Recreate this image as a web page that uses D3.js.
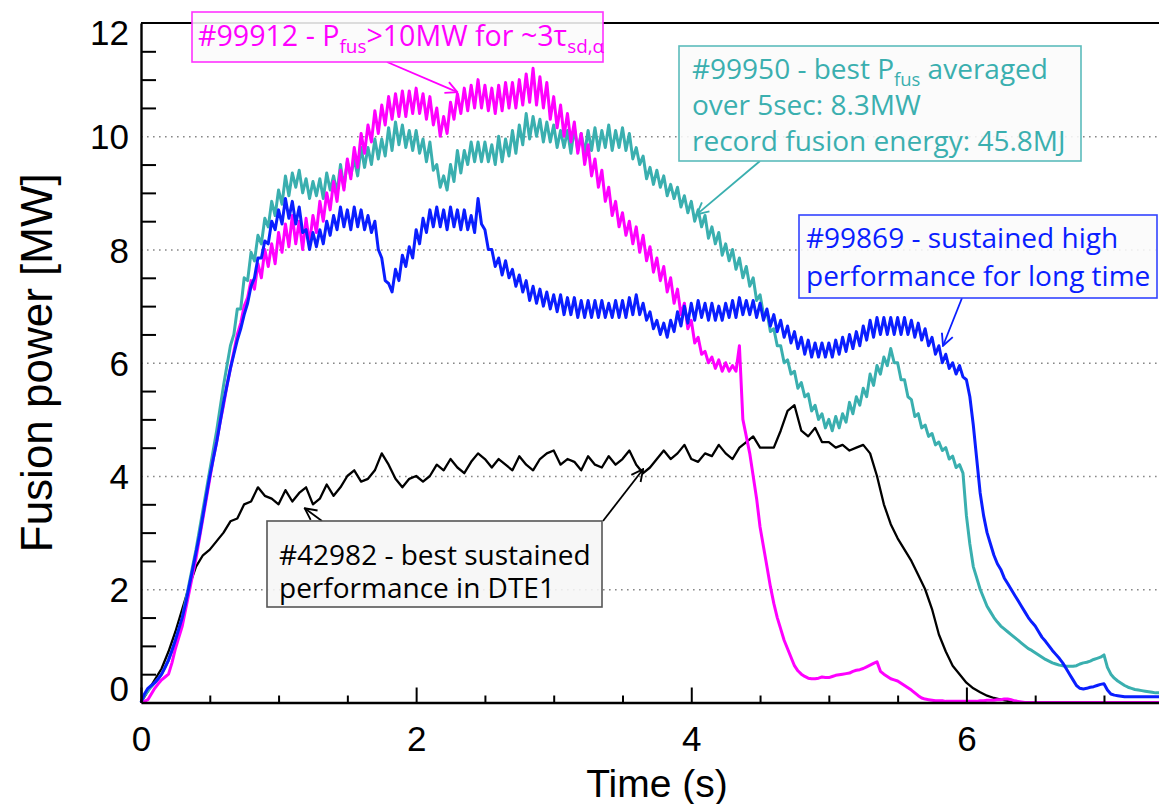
<!DOCTYPE html>
<html><head><meta charset="utf-8">
<script src="https://cdn.jsdelivr.net/npm/d3@7"></script>
<style>body{margin:0;background:#fff}svg{display:block}</style>
</head><body><svg id="c" width="1159" height="804"></svg>
<script>
// ---- data: fusion power [MW], uniformly sampled in time ----
const fineStep = 0.025;   // s, for the three 2021 DTE2 pulses
const coarseStep = 0.05;  // s, for the 1997 DTE1 pulse
const p99950 = [
0,0.12,0.2,0.28,0.35,0.42,0.5,0.62,0.75,0.92,1.1,1.3,1.5,1.8,2.1,2.4,2.7,3.05,3.4,3.75,
4.1,4.45,4.8,5.2,5.6,5.95,6.3,6.5,6.95,6.95,7.5,7.45,7.95,7.8,8.25,8.1,8.55,8.4,8.85,8.6,
9.05,8.8,9.3,8.95,9.35,9.1,9.4,9.0,9.25,8.9,9.2,8.95,9.25,8.9,9.35,9.05,9.3,9.0,9.5,9.1,
9.55,9.3,9.6,9.3,9.8,9.45,9.8,9.5,9.95,9.6,9.95,9.65,10.15,9.75,10.25,9.85,10.2,9.8,10.1,9.75,
10.1,9.7,9.95,9.55,9.9,9.4,9.5,9.1,9.3,9.05,9.5,9.2,9.75,9.35,9.75,9.5,9.9,9.55,9.9,9.55,
9.9,9.55,9.85,9.5,10.0,9.55,9.95,9.65,10.1,9.7,10.2,9.85,10.4,9.95,10.35,10.0,10.3,9.9,10.25,9.9,
10.2,9.8,10.1,9.8,10.1,9.7,10.15,9.75,10.05,9.7,10.1,9.75,10.15,9.75,10.1,9.8,10.2,9.75,10.1,9.8,
10.15,9.75,10.05,9.6,9.8,9.5,9.65,9.25,9.45,9.15,9.4,9.1,9.3,8.95,9.15,8.9,9.1,8.75,8.95,8.65,
8.85,8.5,8.7,8.4,8.6,8.2,8.4,8.1,8.3,7.9,8.1,7.8,8.0,7.65,7.85,7.5,7.7,7.35,7.5,7.1,
7.2,6.85,6.9,6.55,6.6,6.3,6.3,6.0,6.05,5.8,5.85,5.55,5.65,5.4,5.45,5.15,5.25,5.0,5.1,4.85,
5.0,4.8,5.05,4.85,5.1,4.95,5.3,5.1,5.4,5.25,5.55,5.4,5.8,5.6,5.95,5.8,6.1,5.95,6.25,6.0,
6.0,5.7,5.7,5.4,5.35,5.05,5.1,4.85,4.9,4.7,4.75,4.55,4.6,4.45,4.5,4.3,4.35,4.15,4.2,4.05,
3.3,2.8,2.4,2.2,2.0,1.85,1.7,1.6,1.5,1.42,1.35,1.3,1.25,1.2,1.15,1.1,1.05,1.0,0.95,0.92,
0.88,0.84,0.8,0.76,0.73,0.7,0.68,0.66,0.65,0.64,0.64,0.64,0.65,0.68,0.7,0.71,0.73,0.76,0.78,0.8,
0.84,0.62,0.5,0.43,0.38,0.34,0.3,0.27,0.25,0.23,0.22,0.21,0.2,0.19,0.18,0.17,0.17];
const p99912 = [
0,0.02,0.05,0.15,0.25,0.33,0.4,0.45,0.5,0.7,0.95,1.15,1.35,1.65,1.95,2.25,2.55,2.9,3.25,3.6,
3.95,4.3,4.6,4.95,5.25,5.6,5.9,6.2,6.5,6.7,7.0,7.15,7.45,7.3,7.75,7.5,8.0,7.7,8.1,7.75,
8.3,7.95,8.45,8.05,8.6,8.1,8.5,8.0,8.55,8.1,8.6,8.3,8.85,8.5,9.0,8.7,9.2,8.85,9.4,9.05,
9.6,9.25,9.8,9.45,10.05,9.7,10.2,9.9,10.45,10.05,10.55,10.2,10.7,10.3,10.75,10.35,10.8,10.35,10.8,10.4,
10.85,10.4,10.75,10.3,10.7,10.2,10.5,10.0,10.35,10.05,10.6,10.3,10.75,10.4,10.85,10.45,10.9,10.5,11.0,10.5,
10.9,10.45,10.85,10.4,10.9,10.45,10.95,10.5,10.95,10.5,11.0,10.55,11.1,10.6,11.2,10.55,11.05,10.5,10.95,10.3,
10.7,10.15,10.55,10.0,10.4,9.9,10.25,9.7,10.05,9.5,9.85,9.3,9.6,9.1,9.4,8.85,9.1,8.6,8.85,8.4,
8.65,8.25,8.5,8.1,8.4,7.95,8.25,7.8,8.05,7.6,7.85,7.45,7.7,7.25,7.5,7.05,7.3,6.85,7.05,6.6,
6.75,6.35,6.45,6.15,6.2,6.0,6.1,5.9,6.05,5.85,6.0,5.85,5.95,5.85,6.3,5.0,4.7,4.4,4.0,3.6,
3.1,2.75,2.4,2.05,1.75,1.5,1.3,1.1,0.95,0.8,0.65,0.56,0.5,0.46,0.43,0.42,0.42,0.43,0.45,0.44,
0.44,0.46,0.48,0.49,0.5,0.51,0.52,0.55,0.57,0.58,0.6,0.63,0.66,0.69,0.72,0.55,0.5,0.46,0.42,0.4,
0.38,0.34,0.3,0.26,0.22,0.17,0.12,0.08,0.06,0.05,0.04,0.03,0.03,0.03,0.02,0.02,0.02,0.02,0.02,0.02,
0.02,0.02,0.02,0.02,0.03,0.03,0.04,0.04,0.04,0.05,0.05,0.06,0.06,0.05,0.03,0.02,0.01,0,0,0,
0,0,0,0,0,0,0,0,0,0,0,0,0,0,0,0,0,0,0,0,
0,0,0,0,0,0,0,0,0,0,0,0,0,0,0,0,0];
const p99869 = [
0,0.15,0.25,0.3,0.35,0.42,0.5,0.62,0.75,0.92,1.1,1.3,1.5,1.75,2.05,2.35,2.65,2.95,3.3,3.65,
4.0,4.3,4.6,4.95,5.3,5.6,5.9,6.15,6.4,6.6,6.85,7.05,7.35,7.5,7.85,7.85,8.15,8.1,8.5,8.35,
8.7,8.45,8.9,8.55,8.85,8.45,8.75,8.3,8.35,8.0,8.3,8.05,8.35,8.1,8.5,8.25,8.6,8.35,8.75,8.4,
8.7,8.35,8.75,8.4,8.7,8.35,8.6,8.3,8.5,8.0,7.85,7.45,7.4,7.25,7.65,7.45,7.9,7.7,8.05,7.85,
8.35,8.1,8.55,8.3,8.7,8.4,8.75,8.4,8.7,8.35,8.75,8.4,8.7,8.35,8.7,8.35,8.6,8.3,8.9,8.45,
8.35,8.0,8.0,7.7,7.85,7.55,7.8,7.5,7.65,7.35,7.55,7.25,7.45,7.1,7.35,7.05,7.3,7.0,7.25,6.95,
7.2,6.9,7.2,6.85,7.15,6.85,7.15,6.8,7.1,6.8,7.1,6.8,7.1,6.8,7.1,6.8,7.05,6.8,7.1,6.8,
7.1,6.8,7.15,6.85,7.2,6.85,7.05,6.75,6.9,6.6,6.75,6.5,6.7,6.45,6.75,6.55,6.9,6.65,7.0,6.7,
7.05,6.75,7.1,6.8,7.05,6.75,7.05,6.75,7.0,6.75,7.05,6.8,7.1,6.8,7.15,6.85,7.1,6.85,7.1,6.8,
7.05,6.75,6.95,6.65,6.85,6.55,6.75,6.45,6.65,6.35,6.55,6.25,6.45,6.15,6.4,6.1,6.35,6.1,6.35,6.1,
6.35,6.1,6.4,6.15,6.45,6.2,6.5,6.25,6.55,6.3,6.65,6.4,6.75,6.45,6.8,6.5,6.8,6.5,6.8,6.5,
6.8,6.5,6.8,6.5,6.75,6.45,6.7,6.4,6.6,6.3,6.45,6.15,6.3,6.0,6.15,5.9,6.0,5.8,5.95,5.75,
5.7,5.4,4.9,4.3,3.7,3.3,3.0,2.8,2.6,2.45,2.35,2.2,2.1,2.0,1.9,1.8,1.7,1.6,1.5,1.42,
1.35,1.25,1.15,1.08,1.0,0.92,0.85,0.78,0.7,0.6,0.5,0.4,0.3,0.25,0.24,0.25,0.27,0.28,0.3,0.32,
0.33,0.22,0.15,0.13,0.12,0.11,0.1,0.1,0.1,0.1,0.1,0.1,0.1,0.1,0.1,0.1,0.1];
const p42982 = [0,0.2,0.4,0.6,0.9,1.25,1.65,2.05,2.4,2.6,2.7,2.85,3.0,3.2,3.25,3.5,3.55,3.8,3.65,3.6,
3.5,3.75,3.55,3.7,3.8,3.5,3.6,3.85,3.65,3.8,4.0,4.1,3.9,3.95,4.1,4.4,4.2,3.95,3.8,3.95,
4.0,3.9,4.0,4.2,4.1,4.3,4.15,4.05,4.25,4.4,4.3,4.15,4.3,4.2,4.1,4.35,4.2,4.1,4.3,4.4,
4.45,4.2,4.3,4.25,4.1,4.35,4.2,4.15,4.35,4.2,4.3,4.45,4.2,4.05,4.15,4.3,4.45,4.3,4.4,4.55,
4.3,4.25,4.4,4.35,4.55,4.4,4.3,4.5,4.6,4.7,4.5,4.5,4.5,4.8,5.15,5.25,4.8,4.7,4.85,4.6,
4.6,4.5,4.55,4.45,4.5,4.55,4.4,4.0,3.5,3.15,2.9,2.7,2.5,2.25,2.0,1.65,1.2,0.9,0.65,0.5,
0.35,0.25,0.18,0.12,0.08,0.05,0.03,0.02,0,0,0,0,0];
const xMajor = [0, 2, 4, 6];
const yLabels = [0, 2, 4, 6, 8, 10, 12];
const gridVals = [2, 4, 6, 8, 10];

const series = [
  {name: "#42982", values: p42982, step: coarseStep, color: "#000000", width: 2.3},
  {name: "#99950", values: p99950, step: fineStep, color: "#3aafaf", width: 3},
  {name: "#99912", values: p99912, step: fineStep, color: "#ff00ff", width: 3},
  {name: "#99869", values: p99869, step: fineStep, color: "#0a1eff", width: 3}
];

// ---- layout ----
const L = 141, R = 1159, T = 23, B = 702.5;
const svg = d3.select("#c");
const x = d3.scaleLinear([0, 7.4], [L, R]);
const y = d3.scaleLinear([0, 12], [B, T]);
const axisFont = "'Liberation Sans', Arial, Helvetica, sans-serif";
const noteFont = "'Open Sans', 'Noto Sans', sans-serif";

// grid (dotted)
svg.append("g").attr("transform", `translate(${L},0)`)
  .call(d3.axisLeft(y).tickValues(gridVals).tickSize(-(R - L)).tickFormat(""))
  .call(g => g.select(".domain").remove())
  .call(g => g.selectAll("line").attr("stroke", "#888").attr("stroke-width", 1.6)
      .attr("stroke-dasharray", "1.6,4.4"));

// lines
svg.append("g").selectAll("path").data(series).join("path")
  .attr("d", s => d3.line().x((d, i) => x(i * s.step)).y(d => y(d))(s.values))
  .attr("fill", "none").attr("stroke", s => s.color)
  .attr("stroke-width", s => s.width).attr("stroke-linejoin", "round");

// top frame
svg.append("line").attr("x1", L).attr("x2", R).attr("y1", T).attr("y2", T)
  .attr("stroke", "#000").attr("stroke-width", 2.2);

// x axis minor ticks
svg.append("g").attr("transform", `translate(0,${B})`)
  .call(d3.axisBottom(x).tickValues(d3.range(0.5, 7.4, 0.5).filter(v => v % 2 !== 0)).tickSize(-7).tickFormat(""))
  .call(g => g.select(".domain").remove())
  .call(g => g.selectAll("line").attr("stroke-width", 2));
// x axis major
svg.append("g").attr("transform", `translate(0,${B})`)
  .call(d3.axisBottom(x).tickValues(xMajor).tickSize(-15).tickPadding(24).tickSizeOuter(0))
  .call(g => g.select(".domain").attr("stroke-width", 2.4))
  .call(g => g.selectAll("line").attr("stroke-width", 2))
  .call(g => g.selectAll("text").attr("font-family", axisFont).attr("font-size", 35).attr("fill", "#000"));

// y axis ticks (inward, every 0.5 except labelled values)
svg.append("g").attr("transform", `translate(${L},0)`)
  .call(d3.axisRight(y).tickValues(d3.range(0.5, 12, 0.5).filter(v => v % 2 !== 0)).tickSize(15).tickFormat(""))
  .call(g => g.select(".domain").remove())
  .call(g => g.selectAll("line").attr("stroke-width", 2));
// y axis labels + domain
svg.append("g").attr("transform", `translate(${L},0)`)
  .call(d3.axisLeft(y).tickValues(yLabels).tickSize(0).tickPadding(12).tickSizeOuter(0))
  .call(g => g.select(".domain").attr("stroke-width", 2.4))
  .call(g => g.selectAll("text").attr("font-family", axisFont).attr("font-size", 35).attr("fill", "#000")
     .attr("dy", d => d === 12 ? "0.62em" : d === 0 ? "-0.05em" : "0.36em"));

// axis titles
svg.append("text").attr("x", (L + R) / 2 + 7).attr("y", 797).attr("text-anchor", "middle")
  .attr("font-family", axisFont).attr("font-size", 39).text("Time (s)");
svg.append("text").attr("transform", `translate(52,${(T + B) / 2}) rotate(-90)`).attr("text-anchor", "middle")
  .attr("font-family", axisFont).attr("font-size", 44).text("Fusion power [MW]");

// ---- annotations ----
const defs = svg.append("defs");
function marker(id, color) {
  defs.append("marker").attr("id", id).attr("viewBox", "0 0 12 12").attr("refX", 11).attr("refY", 6)
    .attr("markerWidth", 14).attr("markerHeight", 14).attr("markerUnits", "userSpaceOnUse").attr("orient", "auto")
    .append("path").attr("d", "M1,1 L11,6 L1,11").attr("fill", "none").attr("stroke", color).attr("stroke-width", 1.6);
}
function arrow(x1, y1, tx, ty, color, id) {
  marker(id, color);
  svg.append("line").attr("x1", x1).attr("y1", y1).attr("x2", x(tx)).attr("y2", y(ty))
    .attr("stroke", color).attr("stroke-width", 1.8).attr("marker-end", `url(#${id})`);
}
function box(x0, y0, w, h, stroke, fill) {
  svg.append("rect").attr("x", x0).attr("y", y0).attr("width", w).attr("height", h)
    .attr("fill", fill).attr("fill-opacity", 0.88).attr("stroke", stroke).attr("stroke-width", 1.6);
}
function noteLine(x0, y0, segs, color, size) {
  const t = svg.append("text").attr("x", x0).attr("y", y0).attr("font-family", noteFont)
    .attr("font-size", size).attr("fill", color);
  let down = false;
  segs.forEach(s => {
    const sp = t.append("tspan").text(s.t);
    if (s.sub) { sp.attr("font-size", size * 0.66).attr("dy", 7); down = true; }
    else if (down) { sp.attr("dy", -7); down = false; }
  });
}

// #99912
arrow(387, 62, 2.3, 10.78, "#ff00ff", "mMag");
box(192, 12, 411, 50, "#ff33ff", "#fbfbfb");
noteLine(198, 46, [{t: "#99912 - P"}, {t: "fus", sub: true}, {t: ">10MW for ~3τ"}, {t: "sd,α", sub: true}], "#ff00ff", 28.6);

// #99950
arrow(760, 161, 4.04, 8.62, "#3aafaf", "mTeal");
box(679, 46, 402, 115, "#5cbcbc", "#fbfbfb");
noteLine(692, 79, [{t: "#99950 - best P"}, {t: "fus", sub: true}, {t: " averaged"}], "#3aafaf", 28);
noteLine(692, 115, [{t: "over 5sec: 8.3MW"}], "#3aafaf", 28);
noteLine(692, 151, [{t: "record fusion energy: 45.8MJ"}], "#3aafaf", 28);

// #99869
arrow(962, 298, 5.83, 6.3, "#0a1eff", "mBlue");
box(799, 215, 358, 83, "#3344ff", "#fbfbfb");
noteLine(806, 248, [{t: "#99869 - sustained high"}], "#0a1eff", 28);
noteLine(806, 286, [{t: "performance for long time"}], "#0a1eff", 28);

// #42982
arrow(322, 521, 1.19, 3.43, "#000", "mBlk1");
arrow(603, 521, 3.65, 4.12, "#000", "mBlk2");
box(267, 521, 335, 86, "#555", "#f6f6f6");
noteLine(279, 565, [{t: "#42982 - best sustained"}], "#000", 28);
noteLine(279, 598, [{t: "performance in DTE1"}], "#000", 28);
</script>
</body></html>
